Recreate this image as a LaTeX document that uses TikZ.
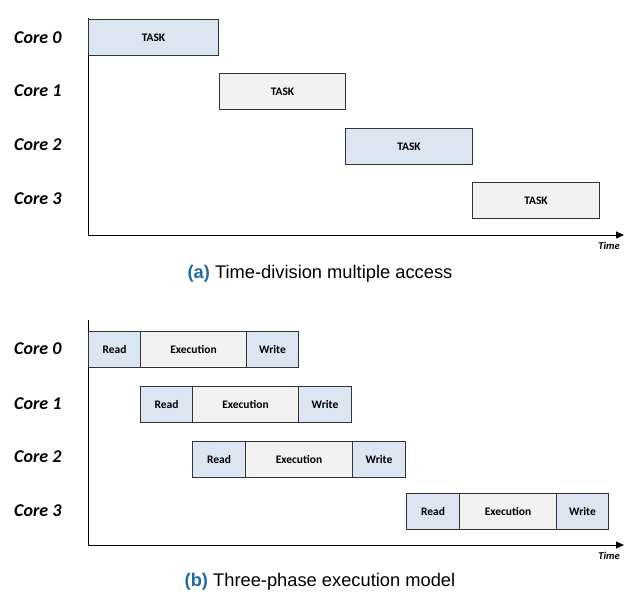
\documentclass[tikz,border=0pt]{standalone}
\usepackage{fontspec}
\setmainfont{Carlito}
\newfontfamily\capfont{Liberation Sans}
\usetikzlibrary{arrows.meta}
\definecolor{boxblue}{HTML}{DCE6F2}
\definecolor{boxgray}{HTML}{F2F2F2}
\definecolor{capblue}{HTML}{1F6BA5}
\definecolor{edge}{HTML}{333333}
\begin{document}
\begin{tikzpicture}[x=1pt,y=-1pt,
  phase/.style={draw=edge,line width=1pt,minimum height=36pt,inner sep=0pt,anchor=north west,font=\fontsize{11.5}{13}\selectfont\bfseries},
  bluebox/.style={phase,fill=boxblue},
  graybox/.style={phase,fill=boxgray},
  corelbl/.style={font=\fontsize{18}{20}\selectfont\bfseries\itshape,anchor=west,inner sep=0pt},
  timelbl/.style={font=\fontsize{10.5}{12}\selectfont\bfseries\itshape},
  axis/.style={line width=1pt,draw=black},
  captext/.style={font=\capfont\fontsize{18.3}{21}\selectfont}]
\useasboundingbox (0,0) rectangle (632,600);
% ---------- panel a ----------
\coordinate (a0) at (88,18);
\coordinate (ao) at (88,235);
\coordinate (ax) at (624,235);
\draw[axis] (a0) -- (ao);
\draw[axis,-{Triangle[length=8pt,width=7pt]}] (ao) -- (ax);
\node[timelbl] (at) at (609,246) {Time};
\node[corelbl] (ac0) at (14,38) {Core 0};
\node[corelbl] (ac1) at (14,91) {Core 1};
\node[corelbl] (ac2) at (14,145) {Core 2};
\node[corelbl] (ac3) at (14,199) {Core 3};
\node[bluebox,minimum width=130pt] (t0) at (88,19) {TASK};
\node[graybox,minimum width=126pt] (t1) at (219,73) {TASK};
\node[bluebox,minimum width=127pt] (t2) at (345,128) {TASK};
\node[graybox,minimum width=127pt] (t3) at (472,182) {TASK};
\node[captext] (capa) at (320,274) {{\color{capblue}\bfseries(a)} Time-division multiple access};
% ---------- panel b ----------
\coordinate (b0) at (88,320);
\coordinate (bo) at (88,545);
\coordinate (bx) at (624,545);
\draw[axis] (b0) -- (bo);
\draw[axis,-{Triangle[length=8pt,width=7pt]}] (bo) -- (bx);
\node[timelbl] (bt) at (609,556) {Time};
\node[corelbl] (bc0) at (14,349) {Core 0};
\node[corelbl] (bc1) at (14,404) {Core 1};
\node[corelbl] (bc2) at (14,457) {Core 2};
\node[corelbl] (bc3) at (14,511) {Core 3};
% row 0
\node[bluebox,minimum width=52pt] (r0) at (88,331) {Read};
\node[graybox,minimum width=106pt] (e0) at (140,331) {Execution};
\node[bluebox,minimum width=52pt] (w0) at (246,331) {Write};
% row 1
\node[bluebox,minimum width=52pt] (r1) at (140,386) {Read};
\node[graybox,minimum width=106pt] (e1) at (192,386) {Execution};
\node[bluebox,minimum width=53pt] (w1) at (298,386) {Write};
% row 2
\node[bluebox,minimum width=53pt] (r2) at (192,441) {Read};
\node[graybox,minimum width=107pt] (e2) at (245,441) {Execution};
\node[bluebox,minimum width=53pt] (w2) at (352,441) {Write};
% row 3
\node[bluebox,minimum width=53pt] (r3) at (406,493) {Read};
\node[graybox,minimum width=97pt] (e3) at (459,493) {Execution};
\node[bluebox,minimum width=52pt] (w3) at (556,493) {Write};
\node[captext] (capb) at (320,582) {{\color{capblue}\bfseries(b)} Three-phase execution model};
\end{tikzpicture}
\end{document}
